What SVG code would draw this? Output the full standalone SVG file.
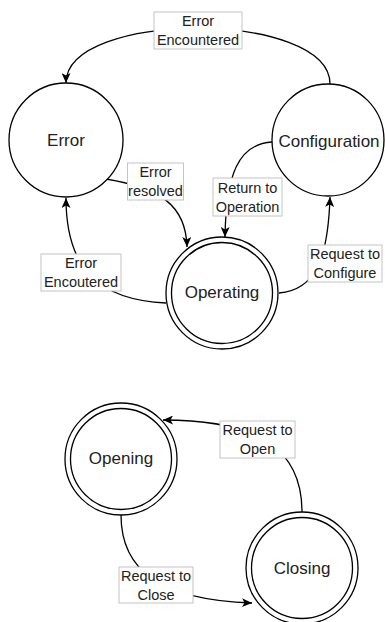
<svg xmlns="http://www.w3.org/2000/svg" width="385" height="622" viewBox="0 0 385 622">
<style>
.st{fill:#fff;stroke:#000;stroke-width:1.3}
.nt{font-family:"Liberation Sans",Arial,sans-serif;font-size:17px;fill:#222;text-anchor:middle}
.lb{fill:#fff;stroke:#c4c4c4;stroke-width:1}
.lt{font-family:"Liberation Sans",Arial,sans-serif;font-size:14.5px;fill:#222;text-anchor:middle}
.e{fill:none;stroke:#000;stroke-width:1.3;marker-end:url(#arr)}
</style>
<defs>
<marker id="arr" markerUnits="userSpaceOnUse" markerWidth="11" markerHeight="9" refX="10" refY="4.5" orient="auto">
<path d="M0,0 L10,4.5 L0,9 L2.5,4.5 Z" fill="#000"/>
</marker>
</defs>
<g id="edges">
<path class="e" d="M330 84 C330 10 66 10 66 83"/>
<path class="e" d="M106 179 C160 188 186 205 187 247"/>
<path class="e" d="M166 303 C100 300 66 270 66 198"/>
<path class="e" d="M272 142 C238 144 226 175 225 237"/>
<path class="e" d="M279 293 C315 290 328 260 330 197"/>
<path class="e" d="M302 512 C302 450 260 420 163 420"/>
<path class="e" d="M121 515 C121 570 160 600 252 603"/>
</g>
<g id="node-error">
<circle class="st" cx="66" cy="140" r="57"/>
<text class="nt" x="66" y="146">Error</text>
</g>
<g id="node-configuration">
<circle class="st" cx="328" cy="140" r="56"/>
<text class="nt" x="329" y="147">Configuration</text>
</g>
<g id="node-operating">
<circle class="st" cx="222" cy="293" r="56"/>
<circle class="st" cx="222" cy="293" r="50.5"/>
<text class="nt" x="222" y="298">Operating</text>
</g>
<g id="node-opening">
<circle class="st" cx="121" cy="459" r="56"/>
<circle class="st" cx="121" cy="459" r="50.5"/>
<text class="nt" x="121" y="464">Opening</text>
</g>
<g id="node-closing">
<circle class="st" cx="302" cy="568" r="56"/>
<circle class="st" cx="302" cy="568" r="50.5"/>
<text class="nt" x="302" y="574">Closing</text>
</g>
<g id="labels">
<g id="label-error-encountered">
<rect class="lb" x="154" y="12" width="88" height="37"/>
<text class="lt" x="198" y="26">Error</text>
<text class="lt" x="198" y="45">Encountered</text>
</g>
<g id="label-error-resolved">
<rect class="lb" x="127.5" y="163" width="56" height="37"/>
<text class="lt" x="155.5" y="177">Error</text>
<text class="lt" x="155.5" y="196">resolved</text>
</g>
<g id="label-error-encoutered">
<rect class="lb" x="41" y="254" width="80" height="37"/>
<text class="lt" x="81" y="268">Error</text>
<text class="lt" x="81" y="287">Encoutered</text>
</g>
<g id="label-return">
<rect class="lb" x="213" y="178" width="69" height="38"/>
<text class="lt" x="247.5" y="193">Return to</text>
<text class="lt" x="247.5" y="212">Operation</text>
</g>
<g id="label-configure">
<rect class="lb" x="308" y="245" width="74" height="37"/>
<text class="lt" x="345" y="259">Request to</text>
<text class="lt" x="345" y="278">Configure</text>
</g>
<g id="label-open">
<rect class="lb" x="220" y="421" width="75" height="37"/>
<text class="lt" x="257.5" y="435">Request to</text>
<text class="lt" x="257.5" y="454">Open</text>
</g>
<g id="label-close">
<rect class="lb" x="119" y="567" width="74" height="36"/>
<text class="lt" x="156" y="581">Request to</text>
<text class="lt" x="156" y="600">Close</text>
</g>
</g>
</svg>
